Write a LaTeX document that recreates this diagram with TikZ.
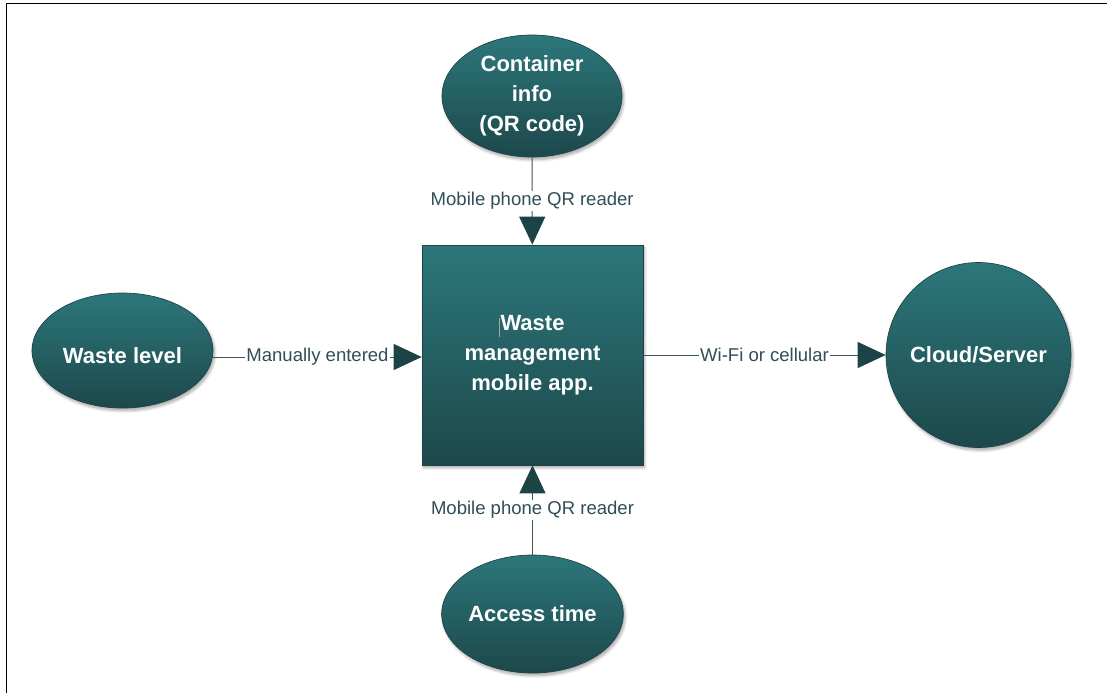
\documentclass[tikz,border=0pt]{standalone}
\usepackage{fontspec}
\setmainfont{Liberation Sans}
\usetikzlibrary{arrows.meta,shapes.geometric,shadows.blur}

\definecolor{tealtop}{HTML}{2C777B}
\definecolor{tealbot}{HTML}{1D484B}
\definecolor{tealedge}{HTML}{1E4346}
\definecolor{linkcol}{HTML}{3E575B}
\definecolor{tipcol}{HTML}{1C4446}
\definecolor{labelcol}{HTML}{2F4E58}

\tikzset{
  x=0.75pt, y=-0.75pt,
  entity/.style={draw=tealedge, line width=0.5pt,
    top color=tealtop, bottom color=tealbot,
    blur shadow={shadow xshift=1.2pt, shadow yshift=-2pt, shadow opacity=35, shadow blur steps=6},
    text=white, align=center, inner sep=0pt,
    font=\fontsize{16.5}{22.5}\selectfont\bfseries},
  oval/.style={entity, ellipse},
  disc/.style={entity, circle},
  panel/.style={entity, rectangle},
  link/.style={draw=linkcol, line width=0.75pt,
    -{Triangle[length=21pt, width=19.5pt, color=tipcol]}},
  lbl/.style={fill=white, text=labelcol, inner sep=1pt,
    font=\fontsize{13.9}{16}\selectfont},
}

\begin{document}
\begin{tikzpicture}
  \useasboundingbox (0,0) rectangle (1107,693);

  % frame lines along the top and left edges
  \draw[line width=1.1pt] (6.3,693) -- (6.3,3.3) -- (1107,3.3);

  % central application box
  \node[panel, minimum width=165.75pt, minimum height=165pt] (app) at (532.5,355)
    {Waste\\management\\mobile app.};
  \draw[gray!70, line width=0.6pt] (499,318) -- (499,337);

  % surrounding entities
  \node[oval, minimum width=135pt, minimum height=91.5pt] (info) at (532,96)
    {Container\\info\\(QR code)};
  \node[oval, minimum width=135.75pt, minimum height=86.25pt, text height=19pt] (level) at (122.5,350.5)
    {Waste level};
  \node[oval, minimum width=135.75pt, minimum height=88.5pt] (access) at (532.5,614)
    {Access time};
  \node[disc, minimum size=138.75pt] (cloud) at (978.5,355)
    {Cloud/Server};

  % data flows
  \draw[link] (info) -- node[lbl] {Mobile phone QR reader} (app);
  \draw[link] (access) -- node[lbl] {Mobile phone QR reader} (app);
  \draw[link] (level.east |- 0,357) -- node[lbl] {Manually entered} (app.west |- 0,357);
  \draw[link] (app) -- node[lbl] {Wi-Fi or cellular} (cloud);
\end{tikzpicture}
\end{document}
